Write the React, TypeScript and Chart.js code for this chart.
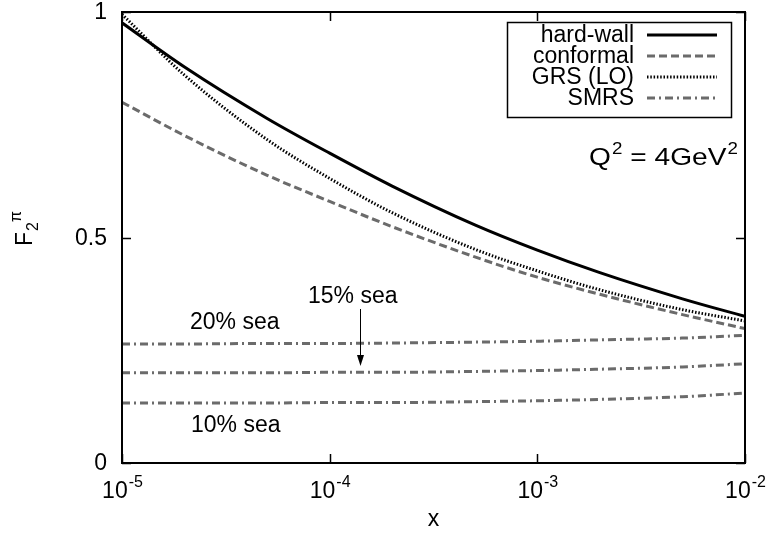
import React, { useEffect, useRef } from "react";
import { Chart, registerables } from "chart.js";

Chart.register(...registerables);

// ---- data ----
const xValues = [1e-5, 2e-5, 5e-5, 1e-4, 2e-4, 5e-4, 1e-3, 2e-3, 5e-3, 1e-2];
const hardWall = [0.976, 0.878, 0.764, 0.687, 0.614, 0.528, 0.472, 0.422, 0.364, 0.325];
const conformal = [0.8, 0.726, 0.638, 0.58, 0.524, 0.457, 0.412, 0.374, 0.329, 0.298];
const grsLO = [0.995, 0.86, 0.717, 0.631, 0.555, 0.474, 0.426, 0.384, 0.34, 0.315];
const smrs20 = [0.264, 0.264, 0.265, 0.265, 0.266, 0.268, 0.27, 0.273, 0.277, 0.283];
const smrs15 = [0.2, 0.2, 0.2, 0.201, 0.201, 0.203, 0.205, 0.208, 0.213, 0.22];
const smrs10 = [0.133, 0.133, 0.133, 0.134, 0.134, 0.136, 0.138, 0.141, 0.147, 0.155];

const xTicks = [1e-5, 1e-4, 1e-3, 1e-2];
const xTickExponents = ["-5", "-4", "-3", "-2"];
const yTicks = [0, 0.5, 1];
const yTickLabels = ["0", "0.5", "1"];
const legendLabels = ["hard-wall", "conformal", "GRS (LO)", "SMRS"];
const seaLabels = ["20% sea", "15% sea", "10% sea"];

const FONT = "'Liberation Sans', Arial, Helvetica, sans-serif";
const GRAY = "#6b6b6b";
const BIG = 23;
const SMALL = 16;

const styles = [
  { color: "#000000", width: 3, dash: [] as number[] },
  { color: GRAY, width: 3, dash: [8, 4] },
  { color: "#000000", width: 3, dash: [1.5, 1.8] },
  { color: GRAY, width: 3, dash: [8, 4, 2, 4] },
];

const pts = (ys: number[]) => xValues.map((x, i) => ({ x, y: ys[i] }));

const decorPlugin = {
  id: "decor",
  afterDatasetsDraw(chart: any) {
    const { ctx, chartArea: a, scales } = chart;
    const xs = scales.x;
    const ys = scales.y;
    ctx.save();
    ctx.setLineDash([]);
    ctx.strokeStyle = "#000";
    ctx.fillStyle = "#000";

    // ticks
    ctx.lineWidth = 1.5;
    ctx.beginPath();
    xTicks.forEach((v) => {
      const px = Math.round(xs.getPixelForValue(v)) + 0.5;
      ctx.moveTo(px, a.bottom);
      ctx.lineTo(px, a.bottom - 9);
      ctx.moveTo(px, a.top);
      ctx.lineTo(px, a.top + 9);
    });
    yTicks.forEach((v) => {
      const py = Math.round(ys.getPixelForValue(v)) + 0.5;
      ctx.moveTo(a.left, py);
      ctx.lineTo(a.left + 9, py);
      ctx.moveTo(a.right, py);
      ctx.lineTo(a.right - 9, py);
    });
    ctx.stroke();

    // frame
    ctx.lineWidth = 2;
    ctx.strokeRect(a.left, a.top, a.right - a.left, a.bottom - a.top);

    // y tick labels
    ctx.font = `${BIG}px ${FONT}`;
    ctx.textAlign = "right";
    ctx.textBaseline = "middle";
    yTicks.forEach((v, i) => {
      ctx.fillText(yTickLabels[i], 107, ys.getPixelForValue(v) + 1);
    });

    // x tick labels 10^n
    ctx.textBaseline = "alphabetic";
    ctx.textAlign = "left";
    xTicks.forEach((v, i) => {
      const px = xs.getPixelForValue(v);
      ctx.font = `${BIG}px ${FONT}`;
      const w1 = ctx.measureText("10").width;
      ctx.font = `${SMALL}px ${FONT}`;
      const w2 = ctx.measureText(xTickExponents[i]).width;
      const x0 = px - (w1 + w2) / 2;
      ctx.font = `${BIG}px ${FONT}`;
      ctx.fillText("10", x0, 498);
      ctx.font = `${SMALL}px ${FONT}`;
      ctx.fillText(xTickExponents[i], x0 + w1 + 1, 487);
    });

    // x axis title
    ctx.font = `${BIG}px ${FONT}`;
    ctx.textAlign = "center";
    ctx.fillText("x", (a.left + a.right) / 2, 526);

    // y axis title F_2^pi (rotated)
    ctx.save();
    ctx.translate(32, 246);
    ctx.rotate(-Math.PI / 2);
    ctx.textAlign = "left";
    ctx.font = `${BIG}px ${FONT}`;
    ctx.fillText("F", 0, 0);
    const wF = ctx.measureText("F").width;
    ctx.font = `${SMALL}px ${FONT}`;
    ctx.fillText("2", wF + 1, 6);
    const w2 = ctx.measureText("2").width;
    ctx.fillText("\u03c0", wF + w2 + 1, -11);
    ctx.restore();

    // Q^2 annotation spanning 589..738, slightly stretched like the original
    const parts: [string, number, number, number][] = [
      ["Q", 24, 0, 1],
      ["2", SMALL, -11, 0],
      [" = ", 24, 0, 0],
      ["4GeV", 24, 0, 1],
      ["2", SMALL, -11, 0],
    ];
    let total = 0;
    parts.forEach(([t, s, , gap]) => {
      ctx.font = `${s}px ${FONT}`;
      total += ctx.measureText(t).width + gap;
    });
    const sx = 149 / total;
    ctx.save();
    ctx.translate(589, 165);
    ctx.scale(sx, 1);
    ctx.textAlign = "left";
    let qx = 0;
    parts.forEach(([t, s, dy, gap]) => {
      ctx.font = `${s}px ${FONT}`;
      ctx.fillText(t, qx, dy);
      qx += ctx.measureText(t).width + gap;
    });
    ctx.restore();

    // sea labels
    ctx.textAlign = "left";
    ctx.font = `${BIG}px ${FONT}`;
    ctx.fillText(seaLabels[0], 190, 329);
    ctx.fillText(seaLabels[1], 308, 303);
    ctx.fillText(seaLabels[2], 191, 432);

    // arrow
    const ax = 360.5;
    ctx.lineWidth = 1;
    ctx.beginPath();
    ctx.moveTo(ax, 309);
    ctx.lineTo(ax, 358);
    ctx.stroke();
    ctx.beginPath();
    ctx.moveTo(ax, 366);
    ctx.lineTo(ax - 3.5, 355);
    ctx.lineTo(ax + 3.5, 355);
    ctx.closePath();
    ctx.fill();

    // legend
    ctx.fillStyle = "#fff";
    ctx.fillRect(507, 22, 224, 95);
    ctx.lineWidth = 1.5;
    ctx.strokeStyle = "#000";
    ctx.strokeRect(507.5, 22.5, 224, 95);
    ctx.fillStyle = "#000";
    ctx.textAlign = "right";
    ctx.font = `${BIG}px ${FONT}`;
    legendLabels.forEach((lab, i) => {
      const base = 42 + i * 21;
      ctx.fillText(lab, 634, base);
      const st = styles[i];
      ctx.save();
      ctx.strokeStyle = st.color;
      ctx.lineWidth = st.width;
      ctx.setLineDash(st.dash);
      ctx.beginPath();
      ctx.moveTo(647, base - 7);
      ctx.lineTo(717, base - 7);
      ctx.stroke();
      ctx.restore();
    });

    ctx.restore();
  },
};

export default function App() {
  const ref = useRef<HTMLCanvasElement | null>(null);
  useEffect(() => {
    if (!ref.current) return;
    const mk = (label: string, ys: number[], st: (typeof styles)[number]) => ({
      label,
      data: pts(ys),
      borderColor: st.color,
      backgroundColor: st.color,
      borderWidth: st.width,
      borderDash: st.dash,
      pointRadius: 0,
      fill: false,
      cubicInterpolationMode: "monotone" as const,
    });
    const chart = new Chart(ref.current, {
      type: "line",
      data: {
        datasets: [
          mk(legendLabels[0], hardWall, styles[0]),
          mk(legendLabels[1], conformal, styles[1]),
          mk(legendLabels[2], grsLO, styles[2]),
          mk(legendLabels[3] + " " + seaLabels[0], smrs20, styles[3]),
          mk(legendLabels[3] + " " + seaLabels[1], smrs15, styles[3]),
          mk(legendLabels[3] + " " + seaLabels[2], smrs10, styles[3]),
        ],
      },
      options: {
        animation: false,
        responsive: false,
        layout: { padding: { left: 122, top: 12, right: 24, bottom: 70 } },
        plugins: { legend: { display: false }, tooltip: { enabled: false } },
        scales: {
          x: { type: "logarithmic", min: 1e-5, max: 1e-2, display: false },
          y: { type: "linear", min: 0, max: 1, display: false },
        },
      },
      plugins: [decorPlugin],
    });
    return () => chart.destroy();
  }, []);
  return (
    <div style={{ position: "absolute", left: 0, top: 0, width: 769, height: 533, background: "#fff" }}>
      <canvas ref={ref} width={769} height={533} style={{ display: "block" }} />
    </div>
  );
}
